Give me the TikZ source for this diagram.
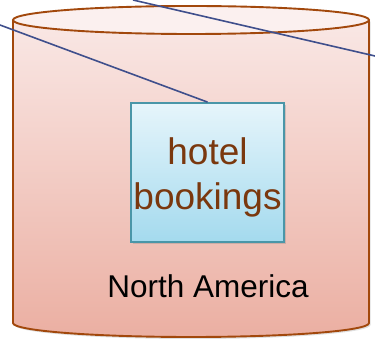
\documentclass[tikz,border=0pt]{standalone}
\usepackage{fontspec}
\setmainfont{Liberation Sans}
\usetikzlibrary{positioning,shadows}

\definecolor{cylEdge}{HTML}{A2480C}
\definecolor{cylTop}{HTML}{FAEAE8}
\definecolor{cylBot}{HTML}{EBAFA2}
\definecolor{boxEdge}{HTML}{4A96A8}
\definecolor{boxTop}{HTML}{E6F5FB}
\definecolor{boxBot}{HTML}{A4DAEE}
\definecolor{txtBrown}{HTML}{7A380E}
\definecolor{linkBlue}{HTML}{3F4F8C}

\begin{document}
\begin{tikzpicture}[x=1pt,y=1pt,
  link/.style={linkBlue,line width=1.6pt},
  tablebox/.style={draw=boxEdge,line width=1.8pt,top color=boxTop,bottom color=boxBot,
    minimum width=153pt,minimum height=139pt,inner sep=0pt,align=center,
    text=txtBrown,font=\fontsize{37}{45}\selectfont,text height=82pt,
    drop shadow={opacity=0.3,shadow xshift=1.5pt,shadow yshift=-2pt}}]
\useasboundingbox (0,0) rectangle (375,340);
% cylinder body
\fill[top color=cylTop,bottom color=cylBot,
  drop shadow={opacity=0.25,shadow xshift=1.5pt,shadow yshift=-2pt}]
  (13,320) -- (13,17) arc[start angle=180,end angle=360,x radius=178,y radius=14]
  -- (369,320) arc[start angle=0,end angle=180,x radius=178,y radius=14] -- cycle;
\draw[cylEdge,line width=1.9pt] (13,320) -- (13,17)
  arc[start angle=180,end angle=360,x radius=178,y radius=14] -- (369,320);
\draw[cylEdge,line width=1.9pt,fill=cylTop!70!white] (191,320) ellipse[x radius=178,y radius=14];
% table inside
\node[tablebox] (hotel) at (207.5,167.5) {hotel\\bookings};
\node[anchor=base,font=\fontsize{31.5}{37}\selectfont] (region) at (208,42) {North America};
% links
\coordinate (lnA) at (0,315);
\coordinate (lnB) at (133,340);
\coordinate (lnC) at (375,284);
\draw[link] (lnA) -- (hotel.north);
\draw[link] (lnB) -- (lnC);
\end{tikzpicture}
\end{document}
